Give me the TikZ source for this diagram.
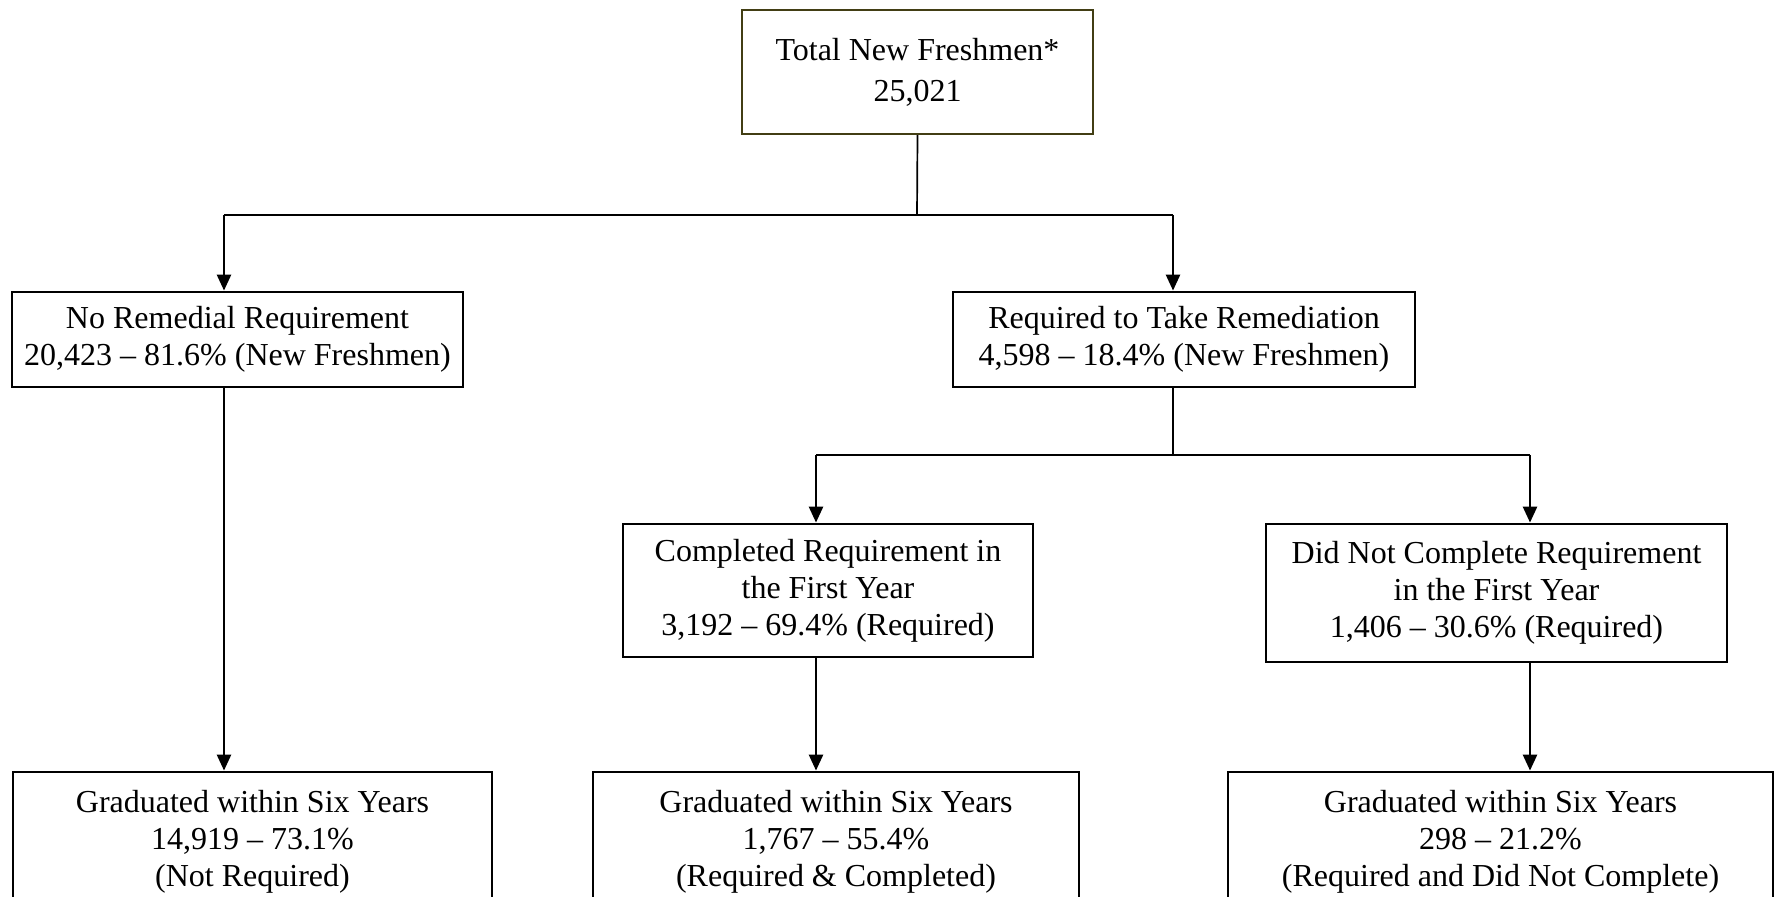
\documentclass[tikz,border=0pt]{standalone}
\usepackage{fontspec}
\setmainfont{Liberation Serif}
\usetikzlibrary{arrows.meta}
\definecolor{olivebd}{RGB}{66,62,20}
\begin{document}
\begin{tikzpicture}[x=0.5pt,y=-0.5pt,
  box/.style={draw=black,line width=1.4pt,fill=white,inner sep=0pt,align=center,font=\fontsize{16}{18.5}\selectfont},
  topbox/.style={box,draw=olivebd,line width=1.1pt,font=\fontsize{16}{20.5}\selectfont},
  plainline/.style={line width=0.85pt},
  arr/.style={line width=1.3pt,-{Triangle[width=7pt,length=8pt]}}]
\useasboundingbox (0,0) rectangle (1776,897);
\clip (0,0) rectangle (1776,897);
% boxes
\node[topbox,minimum width=175.5pt,minimum height=62pt] (top) at (917.5,72) {Total New Freshmen*\\25,021};
\node[box,minimum width=225.5pt,minimum height=47.5pt] (nr) at (237.5,339.5) {No Remedial Requirement\\20,423 – 81.6\% (New Freshmen)};
\node[box,minimum width=231pt,minimum height=47.5pt] (rr) at (1184,339.5) {Required to Take Remediation\\4,598 – 18.4\% (New Freshmen)};
\node[box,minimum width=205pt,minimum height=66.5pt] (cr) at (828,590.5) {Completed Requirement in\\the First Year\\3,192 – 69.4\% (Required)};
\node[box,minimum width=230.5pt,minimum height=69pt] (dn) at (1496.5,593) {Did Not Complete Requirement\\in the First Year\\1,406 – 30.6\% (Required)};
\node[box,minimum width=239.5pt,minimum height=70pt] (g1) at (252.5,842) {Graduated within Six Years\\14,919 – 73.1\%\\(Not Required)};
\node[box,minimum width=243pt,minimum height=70pt] (g2) at (836,842) {Graduated within Six Years\\1,767 – 55.4\%\\(Required \& Completed)};
\node[box,minimum width=272.5pt,minimum height=70pt] (g3) at (1500.5,842) {Graduated within Six Years\\298 – 21.2\%\\(Required and Did Not Complete)};
% junctions
\coordinate (j1) at (917,215);
\coordinate (jl) at (224,215);
\coordinate (jr) at (1173,215);
\coordinate (j2) at (1173,455);
\coordinate (jcl) at (816,455);
\coordinate (jcr) at (1530,455);
% connectors
\draw[plainline] (top.south) -- (j1);
\draw[plainline] (jl) -- (jr);
\draw[arr] (jl) -- (jl |- nr.north);
\draw[arr] (jr) -- (jr |- rr.north);
\draw[arr] (jl |- nr.south) -- (jl |- g1.north);
\draw[plainline] (j2 |- rr.south) -- (j2);
\draw[plainline] (jcl) -- (jcr);
\draw[arr] (jcl) -- (jcl |- cr.north);
\draw[arr] (jcr) -- (jcr |- dn.north);
\draw[arr] (jcl |- cr.south) -- (jcl |- g2.north);
\draw[arr] (jcr |- dn.south) -- (jcr |- g3.north);
\end{tikzpicture}
\end{document}
